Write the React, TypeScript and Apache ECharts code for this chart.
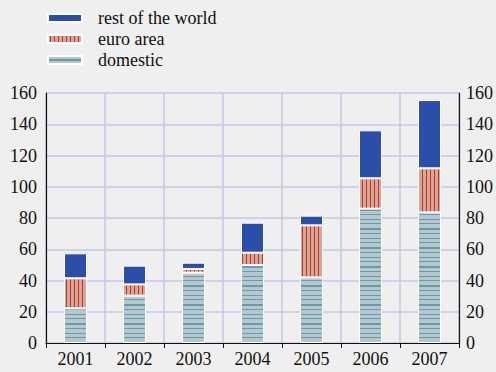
import React, { useEffect, useRef } from "react";
import * as echarts from "echarts";

const categories = ["2001", "2002", "2003", "2004", "2005", "2006", "2007"];
const domestic = [22.2, 30.3, 45.0, 49.9, 42.0, 86.0, 83.6];
const euroArea = [19.2, 7.2, 2.4, 7.9, 33.3, 19.4, 28.2];
const restOfWorld = [16.0, 12.0, 4.0, 19.2, 6.2, 30.7, 43.7];
const yTicks = { min: 0, max: 160, interval: 20 };

const FONT = "Liberation Serif";

function makeCanvas(w: number, h: number, draw: (ctx: CanvasRenderingContext2D) => void) {
  const c = document.createElement("canvas");
  c.width = w;
  c.height = h;
  const ctx = c.getContext("2d")!;
  draw(ctx);
  return c;
}

export default function App() {
  const ref = useRef<HTMLDivElement>(null);
  useEffect(() => {
    if (!ref.current) return;
    const chart = echarts.init(ref.current, undefined, { renderer: "svg" });

    const domPattern = makeCanvas(4, 19, (ctx) => {
      ctx.fillStyle = "#b4c8d0";
      ctx.fillRect(0, 0, 4, 19);
      ctx.fillStyle = "#6d98a8";
      ctx.fillRect(0, 0, 4, 2);
      ctx.fillRect(0, 5, 4, 1);
      ctx.fillRect(0, 10, 4, 1);
      ctx.fillRect(0, 14, 4, 1);
    });
    const domLegend = makeCanvas(4, 8, (ctx) => {
      ctx.fillStyle = "#b4c8d0";
      ctx.fillRect(0, 0, 4, 8);
      ctx.fillStyle = "#6d98a8";
      ctx.fillRect(0, 3, 4, 2);
    });
    const euroPattern = makeCanvas(4, 4, (ctx) => {
      ctx.fillStyle = "#d9a594";
      ctx.fillRect(0, 0, 4, 4);
      ctx.fillStyle = "#b8392b";
      ctx.fillRect(2, 0, 1, 4);
    });

    const gridColor = "#c6c6e8";
    const labelStyle = { fontFamily: FONT, fontSize: 18, color: "#111" };

    chart.setOption({
      animation: false,
      backgroundColor: "#efefef",
      textStyle: { fontFamily: FONT },
      legend: {
        orient: "vertical",
        left: 42,
        top: 4,
        itemWidth: 34,
        itemHeight: 8,
        itemGap: 3,
        icon: "rect",
        data: [
          { name: "rest of the world" },
          { name: "euro area" },
          { name: "domestic", itemStyle: { color: { image: domLegend, repeat: "repeat" } } },
        ],
        textStyle: { ...labelStyle, padding: [0, 0, 0, 11] },
      },
      grid: { left: 46, right: 37, top: 93, bottom: 29 },
      xAxis: {
        type: "category",
        data: categories,
        boundaryGap: true,
        offset: 2,
        axisLine: { show: true, lineStyle: { color: "#111", width: 1.2 } },
        axisTick: { show: true, length: 5, lineStyle: { color: "#111" } },
        axisLabel: { ...labelStyle, margin: 5 },
        splitLine: { show: true, lineStyle: { color: gridColor, width: 1.5 } },
      },
      yAxis: [
        {
          type: "value",
          position: "left",
          ...yTicks,
          axisLine: { show: true, lineStyle: { color: "#111", width: 1.2 } },
          axisTick: { show: false },
          axisLabel: { ...labelStyle, margin: 9 },
          splitLine: { show: true, lineStyle: { color: gridColor, width: 1.5 } },
        },
        {
          type: "value",
          position: "right",
          ...yTicks,
          axisLine: { show: true, lineStyle: { color: "#111", width: 1.2 } },
          axisTick: { show: false },
          axisLabel: { ...labelStyle, margin: 7 },
          splitLine: { show: false },
        },
      ],
      series: [
        {
          name: "domestic",
          type: "bar",
          stack: "a",
          barWidth: 23,
          data: domestic,
          itemStyle: {
            color: { image: domPattern, repeat: "repeat" },
            borderColor: "#fff",
            borderWidth: 1,
          },
        },
        {
          name: "euro area",
          type: "bar",
          stack: "a",
          barWidth: 23,
          data: euroArea,
          itemStyle: {
            color: { image: euroPattern, repeat: "repeat" },
            borderColor: "#fff",
            borderWidth: 1,
          },
        },
        {
          name: "rest of the world",
          type: "bar",
          stack: "a",
          barWidth: 23,
          data: restOfWorld,
          itemStyle: { color: "#2b4ea8", borderColor: "#fff", borderWidth: 1 },
        },
      ],
    });
    return () => chart.dispose();
  }, []);
  return <div ref={ref} style={{ width: 496, height: 372, position: "absolute", left: 0, top: 0 }} />;
}
